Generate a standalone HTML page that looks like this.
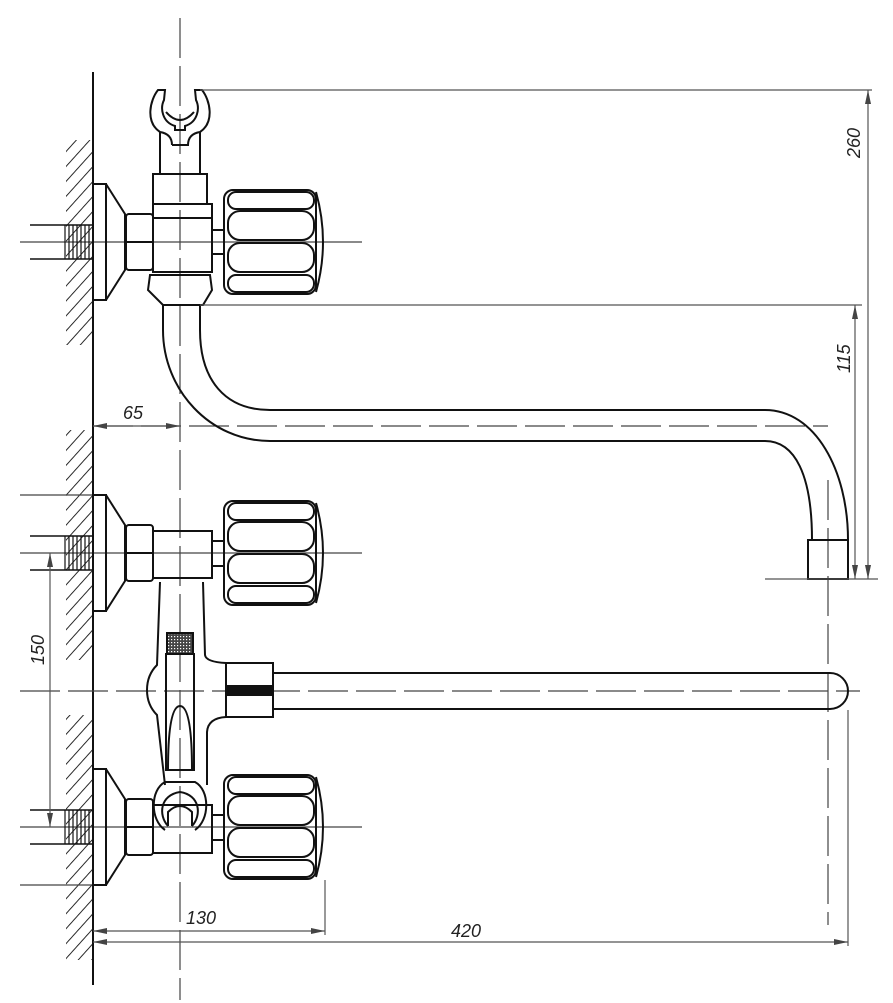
<!DOCTYPE html>
<html><head><meta charset="utf-8"><style>
html,body{margin:0;padding:0;background:#fff}
svg{display:block}
text{font-family:"Liberation Sans",sans-serif;font-style:italic;font-size:18px;fill:#222}
</style></head><body>
<svg width="893" height="1003" viewBox="0 0 893 1003" xmlns="http://www.w3.org/2000/svg">
<defs>
<pattern id="hatch" width="10" height="10" patternUnits="userSpaceOnUse" patternTransform="rotate(42)">
<line x1="0" y1="0" x2="0" y2="10" stroke="#111" stroke-width="1.8"/>
</pattern>
<pattern id="thr" width="4" height="4" patternUnits="userSpaceOnUse">
<line x1="1" y1="0" x2="1" y2="4" stroke="#111" stroke-width="1.2"/>
</pattern>
<pattern id="knurl" width="3" height="3" patternUnits="userSpaceOnUse">
<rect width="3" height="3" fill="#444"/><rect width="1.2" height="1.2" fill="#fff"/>
</pattern>
<g id="knob" fill="none" stroke="#111" stroke-width="2">
<rect x="224" y="-52" width="92" height="104" rx="9"/>
<rect x="228" y="-50" width="86" height="17" rx="8"/>
<rect x="228" y="-31" width="86" height="29" rx="12"/>
<rect x="228" y="1" width="86" height="29" rx="12"/>
<rect x="228" y="33" width="86" height="17" rx="8"/>
<path d="M316,-50 Q330,0 316,50"/>
</g>
<g id="flange" fill="none" stroke="#111" stroke-width="2">
<rect x="93" y="-58" width="13" height="116"/>
<path d="M106,-58 L125,-28 L125,28 L106,58"/>
<rect x="126" y="-28" width="27" height="56" rx="3"/>
<line x1="126" y1="0" x2="153" y2="0"/>
<rect x="62" y="-17" width="30" height="34" fill="url(#thr)" stroke="none"/>
<line x1="30" y1="-17" x2="93" y2="-17" stroke-width="1.5"/>
<line x1="30" y1="17" x2="93" y2="17" stroke-width="1.5"/>
</g>
</defs>

<!-- wall hatching -->
<g>
<rect x="66" y="140" width="27" height="205" fill="url(#hatch)"/>
<rect x="66" y="430" width="27" height="230" fill="url(#hatch)"/>
<rect x="66" y="715" width="27" height="245" fill="url(#hatch)"/>
</g>
<line x1="93" y1="72" x2="93" y2="985" stroke="#111" stroke-width="2"/>

<!-- centre lines -->
<g stroke="#444" stroke-width="1.2" fill="none">
<line x1="180" y1="18" x2="180" y2="1000" stroke-dasharray="40,8"/>
<line x1="20" y1="242" x2="362" y2="242"/>
<line x1="20" y1="553" x2="362" y2="553"/>
<line x1="20" y1="827" x2="362" y2="827"/>
<line x1="20" y1="691" x2="860" y2="691" stroke-dasharray="40,8"/>
<line x1="93" y1="426" x2="828" y2="426" stroke-dasharray="40,8"/>
<line x1="828" y1="480" x2="828" y2="925" stroke-dasharray="40,8"/>
<line x1="20" y1="495" x2="93" y2="495"/>
<line x1="20" y1="885" x2="93" y2="885"/>
</g>

<!-- top valve -->
<g transform="translate(0,242)"><use href="#flange"/><use href="#knob"/></g>
<g fill="none" stroke="#111" stroke-width="2">
<rect x="153" y="174" width="54" height="30"/>
<rect x="153" y="204" width="59" height="68"/>
<line x1="153" y1="218" x2="212" y2="218"/>
<rect x="212" y="230" width="12" height="24"/>
<path d="M150,275 L210,275 L212,290 L203,305 L163,305 L148,290 Z"/>
<path d="M160,174 L160,132 M200,174 L200,132"/>
<path d="M160,132 C145,122 150,100 158,90 L165,90 L164,100 C160,108 162,122 175,126 L175,130 L185,130 L185,126 C198,122 200,108 196,100 L195,90 L202,90 C210,100 215,122 200,132"/>
<path d="M166,112 Q180,128 194,112"/>
<path d="M172,145 L188,145 Q188,134 200,132 M172,145 Q172,134 160,132"/>
<!-- spout -->
<path d="M163,305 L163,330 C163,390 210,441 270,441 L765,441 C795,441 812,475 812,540"/>
<path d="M200,305 L200,330 C200,380 225,410 270,410 L765,410 C815,410 848,470 848,540"/>
<rect x="808" y="540" width="40" height="39"/>
</g>

<!-- middle valve -->
<g transform="translate(0,553)"><use href="#flange"/><use href="#knob"/></g>
<g fill="none" stroke="#111" stroke-width="2">
<rect x="153" y="531" width="59" height="47"/>
<rect x="212" y="541" width="12" height="25"/>
<path d="M160,582 L157,665 Q147,675 147,690 Q147,705 157,715 L165,785"/>
<path d="M203,582 L205,655 Q206,662 226,663 M226,717 Q208,718 207,732 L207,785"/>
<rect x="167" y="633" width="26" height="21" fill="url(#knurl)"/>
<rect x="166" y="654" width="28" height="116"/>
<path d="M168,770 Q168,706 180,706 Q192,706 192,770"/>
<rect x="226" y="663" width="47" height="54"/>
<rect x="226" y="686" width="47" height="9" fill="#111"/>
<path d="M273,673 L830,673 A18,18 0 0 1 830,709 L273,709"/>
</g>

<!-- bottom valve -->
<g transform="translate(0,827)"><use href="#flange"/><use href="#knob"/></g>
<g fill="none" stroke="#111" stroke-width="2">
<rect x="153" y="805" width="59" height="48"/>
<rect x="212" y="815" width="12" height="25"/>
<path d="M165,830 C150,820 150,790 165,782 L195,782 C210,790 210,820 195,830"/>
<path d="M168,826 C158,815 160,795 180,792 C200,795 202,815 192,826"/>
<path d="M168,826 L168,812 Q180,800 192,812 L192,826"/>
</g>

<!-- dimensions -->
<g stroke="#555" stroke-width="1.2" fill="none">
<line x1="200" y1="90" x2="872" y2="90"/>
<line x1="200" y1="305" x2="862" y2="305"/>
<line x1="765" y1="579" x2="878" y2="579"/>
<line x1="868" y1="90" x2="868" y2="579"/>
<line x1="855" y1="305" x2="855" y2="579"/>
<line x1="50" y1="553" x2="50" y2="827"/>
<line x1="93" y1="426" x2="180" y2="426"/>
<line x1="325" y1="880" x2="325" y2="935"/>
<line x1="848" y1="710" x2="848" y2="946"/>
<line x1="93" y1="931" x2="325" y2="931"/>
<line x1="93" y1="942" x2="848" y2="942"/>
</g>
<g fill="#444">
<path d="M868,579 l-3,-14 l6,0 Z"/>
<path d="M868,90 l-3,14 l6,0 Z"/>
<path d="M855,579 l-3,-14 l6,0 Z"/>
<path d="M855,305 l-3,14 l6,0 Z"/>
<path d="M50,553 l-3,14 l6,0 Z"/>
<path d="M50,827 l-3,-14 l6,0 Z"/>
<path d="M93,426 l14,-3 l0,6 Z"/>
<path d="M180,426 l-14,-3 l0,6 Z"/>
<path d="M93,931 l14,-3 l0,6 Z"/>
<path d="M325,931 l-14,-3 l0,6 Z"/>
<path d="M93,942 l14,-3 l0,6 Z"/>
<path d="M848,942 l-14,-3 l0,6 Z"/>
</g>
<text x="123" y="419">65</text>
<text x="186" y="924">130</text>
<text x="451" y="937">420</text>
<text transform="translate(860,158) rotate(-90)">260</text>
<text transform="translate(850,373) rotate(-90)">115</text>
<text transform="translate(44,665) rotate(-90)">150</text>
</svg>
</body></html>
